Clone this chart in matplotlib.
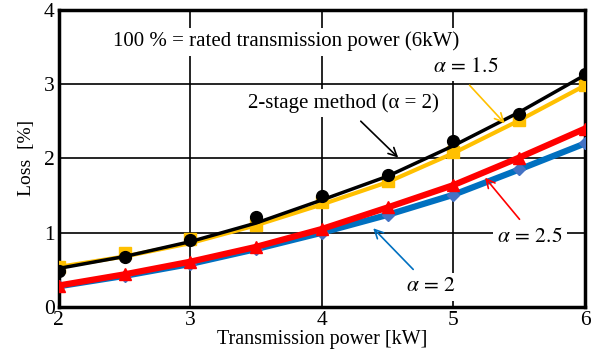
import matplotlib
matplotlib.use("Agg")
import matplotlib.pyplot as plt

plt.rcParams['font.family'] = ['Liberation Serif', 'DejaVu Serif']
plt.rcParams['mathtext.fontset'] = 'stix'

power = [2, 2.5, 3, 3.5, 4, 4.5, 5, 5.5, 6]
# measured points (markers)
loss_2stage = [0.48, 0.67, 0.90, 1.21, 1.49, 1.77, 2.23, 2.60, 3.13]
loss_a15 = [0.54, 0.73, 0.92, 1.10, 1.41, 1.70, 2.08, 2.51, 2.98]
loss_a25 = [0.29, 0.44, 0.61, 0.81, 1.05, 1.34, 1.64, 2.01, 2.40]
loss_a2 = [0.28, 0.42, 0.58, 0.78, 1.00, 1.24, 1.51, 1.85, 2.20]
# approximate curves (lines)
curve_2stage = [0.52, 0.68, 0.88, 1.13, 1.44, 1.76, 2.17, 2.62, 3.12]
curve_a15 = [0.54, 0.68, 0.86, 1.10, 1.38, 1.68, 2.07, 2.51, 2.98]

xticks = [2, 3, 4, 5, 6]
yticks = [0, 1, 2, 3, 4]

fig = plt.figure(figsize=(6, 3.55), dpi=100)
ax = fig.add_axes([0.098, 0.135, 0.877, 0.838])

ax.plot(power, loss_a2, color='#0070C0', lw=4.5, marker='D', ms=6,
        mfc='#4472C4', mec='#4472C4', zorder=3)
ax.plot(power, loss_a25, color='#FF0000', lw=4.5, marker='^', ms=8,
        mfc='#FF0000', mec='#FF0000', zorder=4)
ax.plot(power, curve_a15, color='#FFC000', lw=3, zorder=5)
ax.plot(power, loss_a15, ls='none', marker='s', ms=8,
        mfc='#FFC000', mec='#FFC000', zorder=5)
ax.plot(power, curve_2stage, color='black', lw=2.5, zorder=6)
ax.plot(power, loss_2stage, ls='none', marker='o', ms=8.5,
        mfc='black', mec='black', zorder=6)

ax.set_xlim(2, 6)
ax.set_ylim(0, 4)
ax.set_xticks(xticks)
ax.set_yticks(yticks)
ax.tick_params(length=0, labelsize=15.5, pad=3)
ax.grid(True, color='black', lw=1.2)
ax.set_axisbelow(True)
for s in ax.spines.values():
    s.set_linewidth(2.5)

ax.set_xlabel('Transmission power [kW]', fontsize=14.5, labelpad=0)
ax.set_ylabel('Loss  [%]', fontsize=14, labelpad=6)

box = dict(facecolor='white', edgecolor='none', pad=3)
ax.text(3.73, 3.57, '100 % = rated transmission power (6kW)', fontsize=15,
        ha='center', va='center', bbox=box, zorder=7)
ax.annotate('2-stage method (α = 2)', xy=(4.58, 2.01), xytext=(4.16, 2.74),
            fontsize=15, ha='center', va='center', bbox=box, zorder=7,
            arrowprops=dict(arrowstyle='->', color='black', lw=1.2,
                            shrinkA=4, shrinkB=0, relpos=(0.55, 0)))
ax.annotate(r'$\alpha\,=\,1.5$', xy=(5.39, 2.47), xytext=(5.09, 3.22),
            fontsize=15.5, ha='center', va='center', bbox=box, zorder=7,
            arrowprops=dict(arrowstyle='->', color='#FFC000', lw=1.2,
                            shrinkA=4, shrinkB=0, relpos=(0.45, 0)))
ax.annotate(r'$\alpha\,=\,2.5$', xy=(5.24, 1.74), xytext=(5.58, 0.94),
            fontsize=15.5, ha='center', va='center', bbox=box, zorder=7,
            arrowprops=dict(arrowstyle='->', color='#FF0000', lw=1.2,
                            shrinkA=4, shrinkB=0, relpos=(0.45, 1)))
ax.annotate(r'$\alpha\,=\,2$', xy=(4.39, 1.06), xytext=(4.83, 0.27),
            fontsize=15.5, ha='center', va='center', bbox=box, zorder=7,
            arrowprops=dict(arrowstyle='->', color='#0070C0', lw=1.2,
                            shrinkA=4, shrinkB=0, relpos=(0.3, 1)))

fig.savefig('out.png', dpi=100)
